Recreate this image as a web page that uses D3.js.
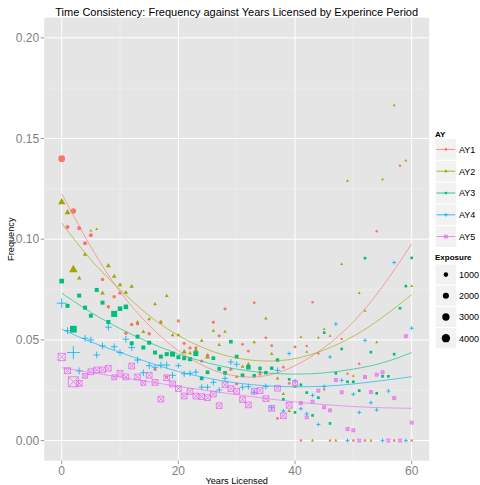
<!DOCTYPE html>
<html><head><meta charset="utf-8">
<script src="https://cdn.jsdelivr.net/npm/d3@7"></script>
<style>body{margin:0;background:#fff}svg{display:block}</style>
</head><body><svg id="chart" width="480" height="485"></svg>
<script>
// Years licensed 0..60 (index of every series array below)
const years = d3.range(0, 61);
const seriesNames = ["AY1", "AY2", "AY3", "AY4", "AY5"];
const seriesColors = ["#F8766D", "#A3A500", "#00BF7D", "#00B0F6", "#E76BF3"];
const seriesShapes = ["circle", "triangle", "square", "plus", "boxcross"];

// Claim frequency by years licensed (null = no observation)
const freqAY1 = [0.140,0.106,0.114,0.1055,0.098,0.102,null,0.080,0.0664,0.0714,0.0733,0.0533,0.0576,0.058,null,0.053,0.0354,0.059,0.0317,null,
  0.0594,0.0483,0.046,0.0461,0.0395,0.0424,0.0588,0.052,0.0654,0.0354,0.0281,0.0478,0.0444,0.0685,0.0329,0.051,0.0471,0.011,0.0364,0.0284,
  0.0465,0,0.047,0.0687,0.0432,0.0253,0,null,0.0505,0.0332,0,0.0382,0,null,0.104,null,null,0,0.1365,null,0];
const freqAY2 = [0.1184,0.1133,0.0848,0.0806,0.0924,0.1042,0.105,0.0732,0.0868,0.0815,0.0773,0.0735,0.0765,0.0588,0.054,0.0603,0.0677,0.0586,0.0718,0.0523,
  0.0523,0.044,0.0434,0.045,0.0496,0.0415,0.0545,0.0475,0.054,null,0.0317,0.0367,0.038,0.0488,0.0342,0.0606,0.043,0.0309,0.0231,0.0147,
  0.0268,0.0513,0.044,0,0.0511,0.0553,0.052,0,0.0876,0.129,0.0321,0.0732,0.0644,0,0.0488,0.1297,null,0.1665,null,0.139,0.0767];
const freqAY3 = [0.0792,0.0669,0.0553,0.072,0.066,0.062,0.0748,0.0685,0.0589,0.0629,0.0655,0.0664,0.0483,0.0516,0.0462,0.0486,0.0437,0.0417,0.0429,0.0429,
  0.0414,0.0409,0.0404,0.0432,0.0309,0.0339,0.0409,0.0356,0.0336,0.0491,0.0417,0.0324,0.0364,0.0322,0.0359,0.0337,0.0359,0.040,0.0205,0.0304,
  0.014,0.0277,0.0238,0.0125,0.0213,0.0536,0.0085,0.0334,0.0455,0.0292,0.0292,0.0248,0.0906,0.0439,0.0235,0.0319,0.0319,0.0429,0.0657,0.0767,0.0907];
const freqAY4 = [0.0682,0.0546,0.0437,0.0346,0.0508,0.050,0.0425,0.047,0.0563,0.0466,0.0437,0.0503,0.0462,0.040,0.0337,0.0372,0.0364,0.0375,0.0375,0.0324,
  0.0372,0.0331,0.0334,0.034,0.0265,0.0265,0.0289,0.0251,0.0309,0.039,0.0379,0.0265,0.0268,0.024,null,0.0268,0.0163,0.0349,0.0147,0.0432,
  0.0297,0.0158,0.0133,0.0225,0.008,0.0268,0.0415,0.0579,0.0299,0,0.023,0.014,0.0498,0.0188,0.0152,0,0.0246,0.0884,null,0,0.0558];
const freqAY5 = [0.0415,0.0347,0.0292,0.0284,0.0321,0.0342,0.0351,0.0351,0.0359,0.0314,0.0334,0.0316,0.037,0.0316,0.0286,0.0324,0.0289,0.0206,0.0312,0.0281,
  0.0258,0.0221,0.0243,0.0221,0.0218,0.0213,0.0231,0.0173,0.0277,0.0258,0.0245,0.0203,0.0177,0.0245,0.0248,0.0208,0.016,0.026,0.0123,0.0175,
  0.0284,0.0186,0.0115,0.0193,0.0248,0.0165,0.015,0.0301,0.024,0.0057,0.0051,0,0.0316,0.0241,0.0327,0.0339,0,0.0211,0,0.0518,0.0089];

// Exposure (drivers) behind each frequency
const expAY1 = [2470,730,1560,730,730,730,730,520,520,520,520,520,520,520,520,520,400,400,400,400,
  400,400,400,400,400,400,400,400,400,400,400,300,300,300,300,300,300,300,300,300,
  300,200,200,200,200,200,200,200,200,200,200,200,200,200,200,200,200,200,200,200,200];
const expAY2 = [1500,950,2270,460,460,140,140,460,600,460,460,460,460,300,300,300,300,300,300,300,
  300,600,300,300,300,600,250,250,250,250,250,250,250,250,250,250,250,250,250,250,
  250,140,140,140,140,140,140,140,140,140,140,140,140,140,140,140,140,140,140,140,140];
const expAY3 = [1430,980,3280,980,980,980,980,980,980,2550,1300,1300,980,980,980,980,980,980,980,1630,
  980,980,980,1630,800,800,800,800,800,800,800,800,1300,650,650,650,650,650,343,343,
  343,343,343,343,343,343,343,343,343,343,343,343,343,343,343,343,343,343,343,343,343];
const expAY4 = [2720,1100,5000,1100,1100,1100,1100,1100,1100,1100,1100,1100,1100,1100,1100,1100,1100,1100,1100,1100,
  820,820,820,820,820,820,820,820,820,820,820,820,820,820,820,820,820,820,290,290,
  290,290,290,290,290,290,290,290,290,290,290,290,290,290,290,290,290,290,290,290,290];
const expAY5 = [2380,1500,4880,1370,900,1370,1370,1370,1370,900,1370,1370,1370,1370,900,1370,1370,1370,1370,1370,
  1370,1370,1370,1370,1370,1370,1370,1370,1370,1370,1370,1370,1370,1370,1370,1370,1370,1370,1370,1370,
  1000,260,260,260,260,260,260,260,260,260,260,260,260,260,260,260,260,260,260,260,260];

// Smoothed trend per period, sampled every 5 years
const fitYears = [0,5,10,15,20,25,30,35,40,45,50,55,60];
const fitAY1 = [0.1226,0.0962,0.0740,0.0572,0.0446,0.0362,0.0320,0.0322,0.0372,0.0462,0.0590,0.0765,0.0977];
const fitAY2 = [0.1080,0.0898,0.0750,0.0620,0.0522,0.0452,0.0410,0.0395,0.0407,0.0450,0.0518,0.0612,0.0725];
const fitAY3 = [0.0732,0.0637,0.0556,0.0487,0.0430,0.0386,0.0355,0.0336,0.0330,0.0336,0.0355,0.0386,0.0437];
const fitAY4 = [0.0553,0.0490,0.0438,0.0387,0.0343,0.0310,0.0286,0.0272,0.0267,0.0270,0.0281,0.0298,0.0317];
const fitAY5 = [0.0362,0.0338,0.0315,0.0292,0.0269,0.0248,0.0228,0.0209,0.0192,0.0179,0.0169,0.0163,0.0160];

const xTicks = [0, 20, 40, 60];
const xMinor = [10, 30, 50];
const yTicks = [0, 0.05, 0.10, 0.15, 0.20];
const yMinor = [0.025, 0.075, 0.125, 0.175];
const exposureBreaks = [1000, 2000, 3000, 4000];

const freqs = [freqAY1, freqAY2, freqAY3, freqAY4, freqAY5];
const exps = [expAY1, expAY2, expAY3, expAY4, expAY5];
const fits = [fitAY1, fitAY2, fitAY3, fitAY4, fitAY5];

const FONT = "'Liberation Sans', Arial, Helvetica, sans-serif";
const svg = d3.select("#chart");
const panel = {left: 44.2, right: 429.2, top: 17.7, bottom: 460.7};

const x = d3.scaleLinear().domain([-3, 63]).range([panel.left, panel.right]);
const y = d3.scaleLinear().domain([-0.01, 0.21]).range([panel.bottom, panel.top]);
const rScale = d3.scaleSqrt().domain([0, 5000]).range([0.4, 4.6]);

// panel background + grid
svg.append("rect").attr("x", panel.left).attr("y", panel.top)
  .attr("width", panel.right - panel.left).attr("height", panel.bottom - panel.top)
  .attr("fill", "#E5E5E5");
const grid = svg.append("g");
yMinor.forEach(v => grid.append("line").attr("x1", panel.left).attr("x2", panel.right)
  .attr("y1", y(v)).attr("y2", y(v)).attr("stroke", "#F2F2F2").attr("stroke-width", 0.5));
xMinor.forEach(v => grid.append("line").attr("y1", panel.top).attr("y2", panel.bottom)
  .attr("x1", x(v)).attr("x2", x(v)).attr("stroke", "#F2F2F2").attr("stroke-width", 0.5));
yTicks.forEach(v => grid.append("line").attr("x1", panel.left).attr("x2", panel.right)
  .attr("y1", y(v)).attr("y2", y(v)).attr("stroke", "#FFFFFF").attr("stroke-width", 1));
xTicks.forEach(v => grid.append("line").attr("y1", panel.top).attr("y2", panel.bottom)
  .attr("x1", x(v)).attr("x2", x(v)).attr("stroke", "#FFFFFF").attr("stroke-width", 1));

// marker drawing, one function per shape
function drawShape(g, shape, cx, cy, r, color) {
  if (shape === "circle") {
    g.append("circle").attr("cx", cx).attr("cy", cy).attr("r", r).attr("fill", color);
  } else if (shape === "triangle") {
    const R = 1.55 * r;
    g.append("path").attr("d", `M${cx},${cy - R}L${cx + R * 0.866},${cy + R / 2}L${cx - R * 0.866},${cy + R / 2}Z`)
      .attr("fill", color);
  } else if (shape === "square") {
    const h = 0.886 * r;
    g.append("rect").attr("x", cx - h).attr("y", cy - h).attr("width", 2 * h).attr("height", 2 * h).attr("fill", color);
  } else if (shape === "plus") {
    const h = 1.414 * r;
    g.append("path").attr("d", `M${cx - h},${cy}H${cx + h}M${cx},${cy - h}V${cy + h}`)
      .attr("stroke", color).attr("stroke-width", 0.8).attr("fill", "none");
  } else {
    const h = 1.1 * r;
    g.append("path").attr("d", `M${cx - h},${cy - h}H${cx + h}V${cy + h}H${cx - h}ZM${cx - h},${cy - h}L${cx + h},${cy + h}M${cx + h},${cy - h}L${cx - h},${cy + h}`)
      .attr("stroke", color).attr("stroke-width", 0.8).attr("fill", "none");
  }
}

// points
const pts = svg.append("g");
freqs.forEach((arr, s) => {
  years.forEach((yr, i) => {
    if (arr[i] === null) return;
    drawShape(pts, seriesShapes[s], x(yr), y(arr[i]), rScale(exps[s][i]), seriesColors[s]);
  });
});

// smoothed trends
const line = d3.line().x((d, i) => x(fitYears[i])).y(d => y(d)).curve(d3.curveNatural);
fits.forEach((f, s) => {
  svg.append("path").attr("d", line(f)).attr("fill", "none")
    .attr("stroke", seriesColors[s]).attr("stroke-width", 0.7).attr("stroke-opacity", 0.9);
});

// axes
const axG = svg.append("g").attr("font-family", FONT);
yTicks.forEach(v => {
  axG.append("line").attr("x1", panel.left - 3.5).attr("x2", panel.left).attr("y1", y(v)).attr("y2", y(v))
    .attr("stroke", "#7F7F7F").attr("stroke-width", 0.8);
  axG.append("text").attr("x", panel.left - 5).attr("y", y(v) + 4.2).attr("text-anchor", "end")
    .attr("font-size", 12).attr("fill", "#7F7F7F").text(d3.format(".2f")(v));
});
xTicks.forEach(v => {
  axG.append("line").attr("y1", panel.bottom).attr("y2", panel.bottom + 3.5).attr("x1", x(v)).attr("x2", x(v))
    .attr("stroke", "#7F7F7F").attr("stroke-width", 0.8);
  axG.append("text").attr("x", x(v)).attr("y", panel.bottom + 14.5).attr("text-anchor", "middle")
    .attr("font-size", 12).attr("fill", "#7F7F7F").text(v);
});
axG.append("text").attr("x", (panel.left + panel.right) / 2).attr("y", 483.5).attr("text-anchor", "middle")
  .attr("font-size", 9.2).attr("fill", "#000").text("Years Licensed");
axG.append("text").attr("transform", `translate(14,${(panel.top + panel.bottom) / 2}) rotate(-90)`)
  .attr("text-anchor", "middle").attr("font-size", 9.2).attr("fill", "#000").text("Frequency");
axG.append("text").attr("x", (panel.left + panel.right) / 2).attr("y", 15.8).attr("text-anchor", "middle")
  .attr("font-size", 11).attr("fill", "#000")
  .text("Time Consistency: Frequency against Years Licensed by Experince Period");

// legend: AY
const lg = svg.append("g").attr("font-family", FONT);
lg.append("text").attr("x", 435).attr("y", 136.5).attr("font-size", 8).attr("font-weight", "bold").text("AY");
seriesNames.forEach((name, s) => {
  const top = 138.5 + s * 21.8, cy = top + 10.9;
  lg.append("rect").attr("x", 435).attr("y", top).attr("width", 21.8).attr("height", 21.8)
    .attr("fill", "#F2F2F2").attr("stroke", "#FFFFFF").attr("stroke-width", 1);
  lg.append("line").attr("x1", 436.5).attr("x2", 455.3).attr("y1", cy).attr("y2", cy)
    .attr("stroke", seriesColors[s]).attr("stroke-width", 0.8);
  drawShape(lg, seriesShapes[s], 445.9, cy, 1.3, seriesColors[s]);
  lg.append("text").attr("x", 459).attr("y", cy + 3.3).attr("font-size", 9).text(name);
});
// legend: Exposure
lg.append("text").attr("x", 435).attr("y", 259.5).attr("font-size", 8).attr("font-weight", "bold").text("Exposure");
let ktop = 264;
exposureBreaks.forEach(v => {
  const h = Math.max(21.2, 2 * rScale(v) + 12);
  const cy = ktop + h / 2;
  lg.append("rect").attr("x", 435).attr("y", ktop).attr("width", 21.8).attr("height", h)
    .attr("fill", "#F2F2F2").attr("stroke", "#FFFFFF").attr("stroke-width", 1);
  lg.append("circle").attr("cx", 445.9).attr("cy", cy).attr("r", rScale(v)).attr("fill", "#000");
  lg.append("text").attr("x", 459).attr("y", cy + 3.3).attr("font-size", 9).text(d3.format("d")(v));
  ktop += h;
});
</script>
</body></html>
